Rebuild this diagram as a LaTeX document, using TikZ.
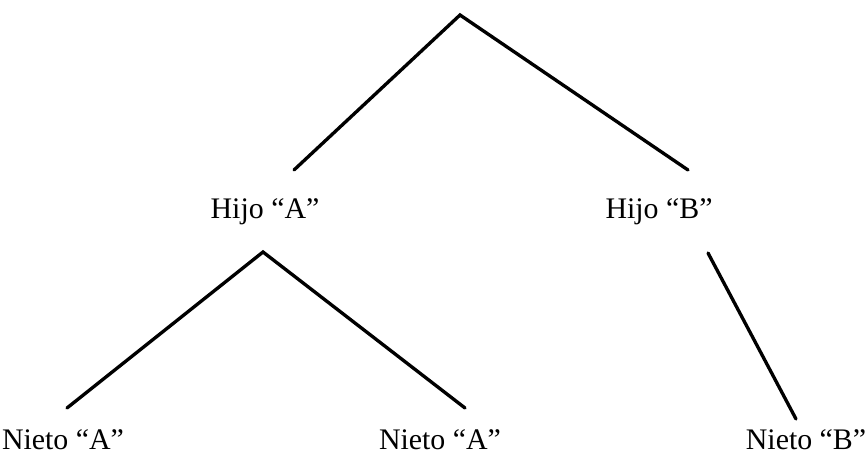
\documentclass[tikz,border=0pt]{standalone}
\usepackage{fontspec}
\setmainfont{Liberation Serif}
\usepackage{tikz}
\usetikzlibrary{positioning}

\begin{document}
\begin{tikzpicture}[
  x=0.02cm, y=-0.02cm,
  every node/.style={font=\fontsize{17}{19}\selectfont, text=black},
  kin/.style={inner sep=2pt},
  branch/.style={line width=1.9pt, draw=black, line cap=round},
]
  \useasboundingbox (0,0) rectangle (868,455);

  % top of the tree
  \coordinate (root) at (460,15);

  \node[kin] (hijoA) at (265,212) {Hijo “A”};
  \node[kin] (hijoB) at (659,212) {Hijo “B”};
  \node[kin] (nietoA1) at (63,440) {Nieto “A”};
  \node[kin] (nietoA2) at (440,440) {Nieto “A”};
  \node[kin] (nietoB) at (806,440) {Nieto “B”};

  % ends of the branches
  \coordinate (toA) at (294,170);
  \coordinate (toB) at (688,170);
  \coordinate (fromA) at (263,252);
  \coordinate (toA1) at (67,408);
  \coordinate (toA2) at (465,408);
  \coordinate (fromB) at (708,253);
  \coordinate (toB1) at (796,419);

  \draw[branch] (toA) -- (root) -- (toB);
  \draw[branch] (toA1) -- (fromA) -- (toA2);
  \draw[branch] (fromB) -- (toB1);
\end{tikzpicture}
\end{document}
